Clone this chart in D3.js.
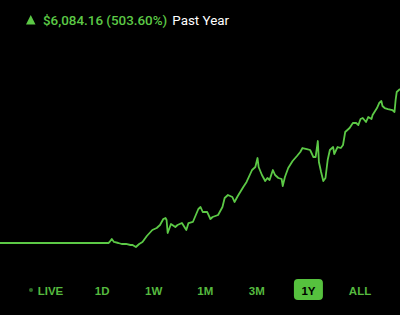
<!DOCTYPE html>
<html>
<head>
<meta charset="utf-8">
<script src="https://cdn.jsdelivr.net/npm/d3@7"></script>
<style>
  html, body { margin: 0; padding: 0; background: #000; }
  svg { display: block; }
</style>
</head>
<body>
<svg id="chart" width="400" height="315"></svg>
<script>
// day of the year (0 = one year ago) and portfolio value in dollars
const days = [0, 50, 99, 100, 102, 104, 108, 111, 115, 119, 121, 124, 127, 130, 134, 139, 143, 146, 149, 151,
    152, 153, 156, 160, 162, 166, 170, 172, 176, 181, 183, 185, 189, 192, 194, 199, 203, 205, 208, 212,
    214, 217, 222, 225, 230, 233, 235, 236, 239, 242, 244, 246, 249, 251, 254, 257, 258, 260, 263, 267,
    271, 274, 276, 280, 283, 286, 288, 290, 291, 293, 295, 297, 299, 301, 304, 305, 308, 311, 313, 315,
    317, 319, 322, 325, 327, 329, 331, 334, 336, 339, 340, 344, 346, 348, 349, 351, 354, 358, 360, 361,
    362, 365];
const values = [1208, 1208, 1208, 1248, 1366, 1248, 1208, 1169, 1169, 1129, 1129, 1050, 1169, 1248, 1485, 1722, 1801, 1919, 2156, 2196,
    2117, 1603, 1959, 1840, 1919, 1998, 1722, 1998, 2038, 2551, 2630, 2433, 2433, 2156, 2235, 2314, 2630, 2986, 3104, 3025,
    2828, 3065, 3420, 3618, 4092, 4210, 4566, 4210, 3894, 3657, 3776, 3697, 4092, 3894, 3776, 3736, 3460, 3815, 4171, 4447,
    4645, 4803, 4961, 4921, 4882, 4605, 4605, 5237, 4408, 4013, 3657, 3776, 4487, 4882, 5000, 4724, 5000, 4961, 5079, 5593,
    5672, 5751, 5948, 5948, 5869, 6106, 6146, 5988, 6185, 6106, 6264, 6540, 6738, 6817, 6620, 6540, 6501, 6462, 6383, 6857,
    7173, 7292];

const gain = "$6,084.16";
const gainPct = "(503.60%)";
const periodLabel = "Past Year";
const ranges = ["LIVE", "1D", "1W", "1M", "3M", "1Y", "ALL"];
const selected = "1Y";

const green = "#5cc946";
const svg = d3.select("#chart");

let x = d3.scaleLinear()
    .domain([0, 365])
    .range([0, 400]);
let y = d3.scaleLinear()
    .domain([1208, 7292])
    .range([243, 89]);

let points = days.map((d, i) => [d, values[i]]);

svg.append("path")
    .datum(points)
    .attr("fill", "none")
    .attr("stroke", green)
    .attr("stroke-width", 1.8)
    .attr("stroke-linejoin", "round")
    .attr("d", d3.line()
        .x(d => x(d[0]))
        .y(d => y(d[1])));

// header
svg.append("path")
    .attr("d", "M26,24.5 L30.75,15 L35.5,24.5 Z")
    .attr("fill", green);

let header = svg.append("text")
    .attr("x", 43)
    .attr("y", 25)
    .style("font-family", "Roboto, 'Liberation Sans', sans-serif")
    .style("font-size", "13.4px")
    .style("font-weight", 500);
header.append("tspan").attr("fill", green).text(gain + " " + gainPct);
header.append("tspan").attr("fill", "#fff").attr("dx", 5)
    .style("font-weight", 400).text(periodLabel);

// range selector
let rx = d3.scalePoint()
    .domain(ranges)
    .range([50.5, 360]);

let btn = svg.selectAll("g.range")
    .data(ranges)
    .enter()
    .append("g")
    .attr("class", "range")
    .attr("transform", d => "translate(" + rx(d) + ",0)");

btn.filter(d => d == selected)
    .append("rect")
    .attr("x", -14.5)
    .attr("y", 279)
    .attr("width", 29)
    .attr("height", 21)
    .attr("rx", 4)
    .attr("fill", "#56c13e");

btn.append("text")
    .attr("y", 294.5)
    .attr("text-anchor", "middle")
    .style("font-family", "'Liberation Sans', Arial, sans-serif")
    .style("font-size", "11.5px")
    .style("font-weight", "bold")
    .attr("fill", d => d == selected ? "#000" : "#55b93f")
    .text(d => d);

btn.filter(d => d == "LIVE")
    .append("circle")
    .attr("cx", -19.5)
    .attr("cy", 290)
    .attr("r", 2)
    .attr("fill", "#2f6e27");
</script>
</body>
</html>
